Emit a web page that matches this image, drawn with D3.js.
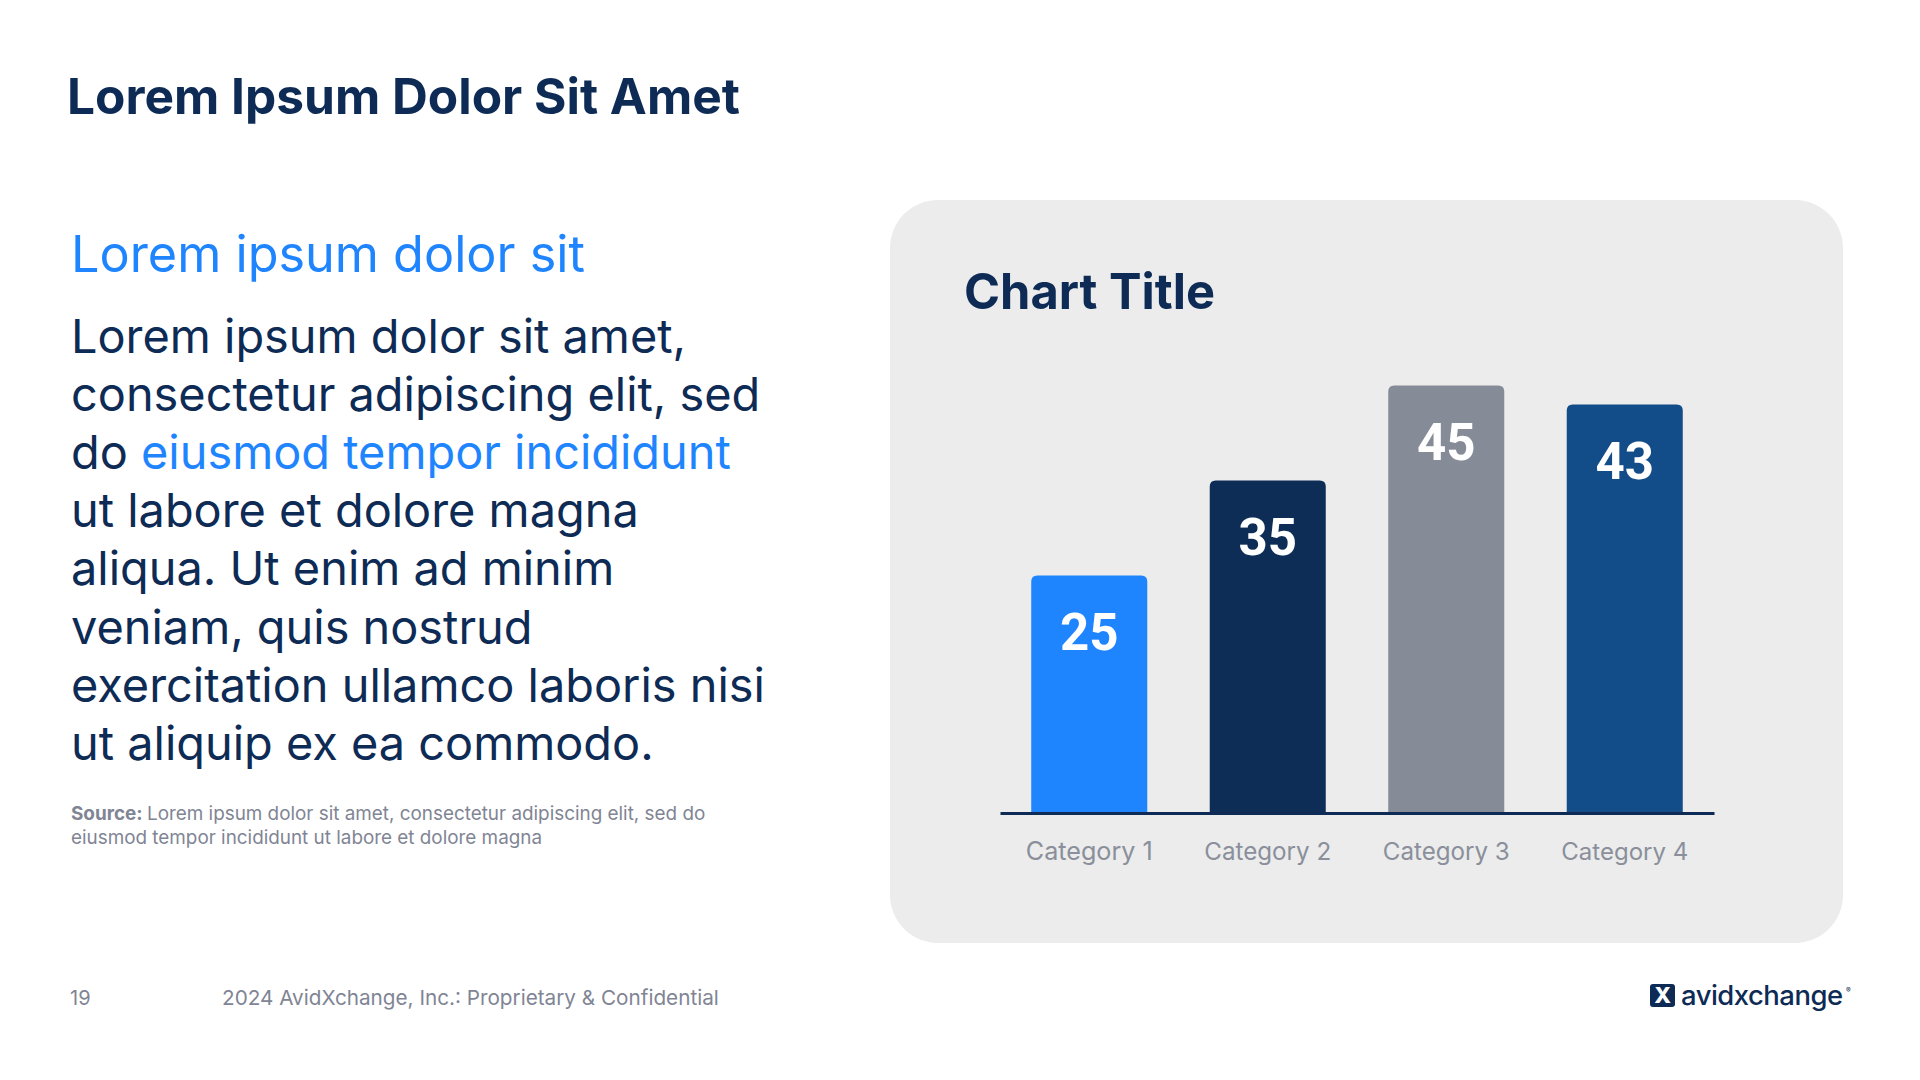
<!DOCTYPE html>
<html>
<head>
  <meta charset="utf-8">
  <script src="https://d3js.org/d3.v7.min.js"></script>
  <style>
  body {
    margin: 0;
    background: #fff;
  }
  svg text {
    font-family: Inter, "Open Sans", sans-serif;
  }
  .x.axis .domain {
    stroke: #0d2b55;
    stroke-width: 3;
  }
  .x.axis text {
    fill: #8a8f9b;
    font-size: 24px;
  }
  </style>
</head>
<body>
<script>

  var categories = ["Category 1", "Category 2", "Category 3", "Category 4"];
  var values = [25, 35, 45, 43];
  var barColors = ["#1f85ff", "#0d2d57", "#868b98", "#134d89"];

  var bodyLines = [
    [["Lorem ipsum dolor sit amet,", 0]],
    [["consectetur adipiscing elit, sed", 0]],
    [["do ", 0], ["eiusmod tempor incididunt", 1]],
    [["ut labore et dolore magna", 0]],
    [["aliqua. Ut enim ad minim", 0]],
    [["veniam, quis nostrud", 0]],
    [["exercitation ullamco laboris nisi", 0]],
    [["ut aliquip ex ea commodo.", 0]]
  ];

  var navy = "#0d2b55",
      blue = "#1f85ff",
      grey = "#7f8594";

  var W = 1920, H = 1080;

  var svg = d3.select("body").append("svg")
    .attr("width", W)
    .attr("height", H);

  // scale font size so the text spans the given width
  function fit(sel, w) {
    var node = sel.node();
    var fs = parseFloat(sel.style("font-size"));
    var len = node.getComputedTextLength();
    sel.style("font-size", (fs * w / len).toFixed(2) + "px");
    return sel;
  }

  // slide title
  fit(svg.append("text")
    .attr("x", 67).attr("y", 114)
    .style("font-size", "52px").style("font-weight", 700)
    .attr("fill", navy)
    .text("Lorem Ipsum Dolor Sit Amet"), 673);

  // left text column
  fit(svg.append("text")
    .attr("x", 71).attr("y", 272)
    .style("font-size", "48px")
    .attr("fill", blue)
    .text("Lorem ipsum dolor sit"), 514);

  var body = svg.append("g");
  var lines = body.selectAll("text")
    .data(bodyLines)
    .enter().append("text")
    .attr("x", 71)
    .attr("y", (d, i) => 352.6 + i * 58.2)
    .style("font-size", "44px")
    .attr("fill", navy);

  lines.selectAll("tspan")
    .data(d => d)
    .enter().append("tspan")
    .attr("fill", d => d[1] ? blue : navy)
    .text(d => d[0]);

  // all body lines share the size of the longest one
  var longest = lines.filter((d, i) => i == 6);
  fit(longest, 694);
  lines.style("font-size", longest.style("font-size"));

  var src1 = svg.append("text")
    .attr("x", 71).attr("y", 820)
    .style("font-size", "17px")
    .attr("fill", grey);
  src1.append("tspan").style("font-weight", 700).text("Source: ");
  src1.append("tspan").text("Lorem ipsum dolor sit amet, consectetur adipiscing elit, sed do");
  fit(src1, 635);

  svg.append("text")
    .attr("x", 71).attr("y", 844)
    .style("font-size", src1.style("font-size"))
    .attr("fill", grey)
    .text("eiusmod tempor incididunt ut labore et dolore magna");

  // footer
  svg.append("text")
    .attr("x", 70).attr("y", 1005)
    .style("font-size", "20px")
    .attr("fill", grey)
    .text("19");

  fit(svg.append("text")
    .attr("x", 222).attr("y", 1005)
    .style("font-size", "20px")
    .attr("fill", grey)
    .text("2024 AvidXchange, Inc.: Proprietary & Confidential"), 497);

  // logo
  var logo = svg.append("g");
  logo.append("rect")
    .attr("x", 1650).attr("y", 984)
    .attr("width", 25).attr("height", 23)
    .attr("rx", 3)
    .attr("fill", navy);
  logo.append("text")
    .attr("x", 1662.5).attr("y", 1003)
    .attr("text-anchor", "middle")
    .style("font-size", "22px").style("font-weight", 800)
    .attr("fill", "#fff")
    .text("X");
  fit(logo.append("text")
    .attr("x", 1681).attr("y", 1005)
    .style("font-size", "30px").style("font-weight", 500)
    .style("letter-spacing", "-0.5px")
    .attr("fill", navy)
    .text("avidxchange"), 162);
  logo.append("text")
    .attr("x", 1846).attr("y", 993)
    .style("font-size", "7px")
    .attr("fill", navy)
    .text("®");

  // chart panel
  svg.append("rect")
    .attr("x", 890).attr("y", 200)
    .attr("width", 953).attr("height", 743)
    .attr("rx", 48)
    .attr("fill", "#ebeceb");

  fit(svg.append("text")
    .attr("x", 964).attr("y", 309)
    .style("font-size", "50px").style("font-weight", 700)
    .attr("fill", navy)
    .text("Chart Title"), 251);

  var chart = {left: 1000, right: 1714, top: 338, bottom: 813};

  var x = d3.scaleBand()
    .domain(categories)
    .range([chart.left, chart.right])
    .paddingInner(0.35)
    .paddingOuter(0.175);

  var y = d3.scaleLinear()
    .domain([0, 50])
    .range([chart.bottom, chart.top]);

  var r = 6;
  function topRounded(d, i) {
    var x0 = x(categories[i]), x1 = x0 + x.bandwidth();
    var y0 = y(d), y1 = y(0);
    return "M" + x0 + "," + y1 +
      "V" + (y0 + r) +
      "Q" + x0 + "," + y0 + " " + (x0 + r) + "," + y0 +
      "H" + (x1 - r) +
      "Q" + x1 + "," + y0 + " " + x1 + "," + (y0 + r) +
      "V" + y1 + "Z";
  }

  svg.selectAll(".bar")
    .data(values)
    .enter().append("path")
    .attr("class", "bar")
    .attr("d", topRounded)
    .attr("fill", (d, i) => barColors[i]);

  svg.selectAll(".value")
    .data(values)
    .enter().append("text")
    .attr("class", "value")
    .attr("x", (d, i) => x(categories[i]) + x.bandwidth() / 2)
    .attr("y", d => y(d) + 74)
    .attr("text-anchor", "middle")
    .style("font-family", "Roboto, sans-serif")
    .style("font-size", "51px")
    .style("font-weight", 700)
    .attr("fill", "#fff")
    .text(d => d);

  var xAxis = d3.axisBottom(x).tickSize(0).tickSizeOuter(0);

  svg.append("g")
    .attr("class", "x axis")
    .attr("transform", "translate(0," + chart.bottom + ")")
    .call(xAxis)
    .call(g => g.selectAll("text")
      .attr("y", 47).attr("dy", 0)
      .style("font-family", "Inter, sans-serif"));

  svg.selectAll(".x.axis text").each(function() { fit(d3.select(this), 127); });

</script>
</body>
</html>
